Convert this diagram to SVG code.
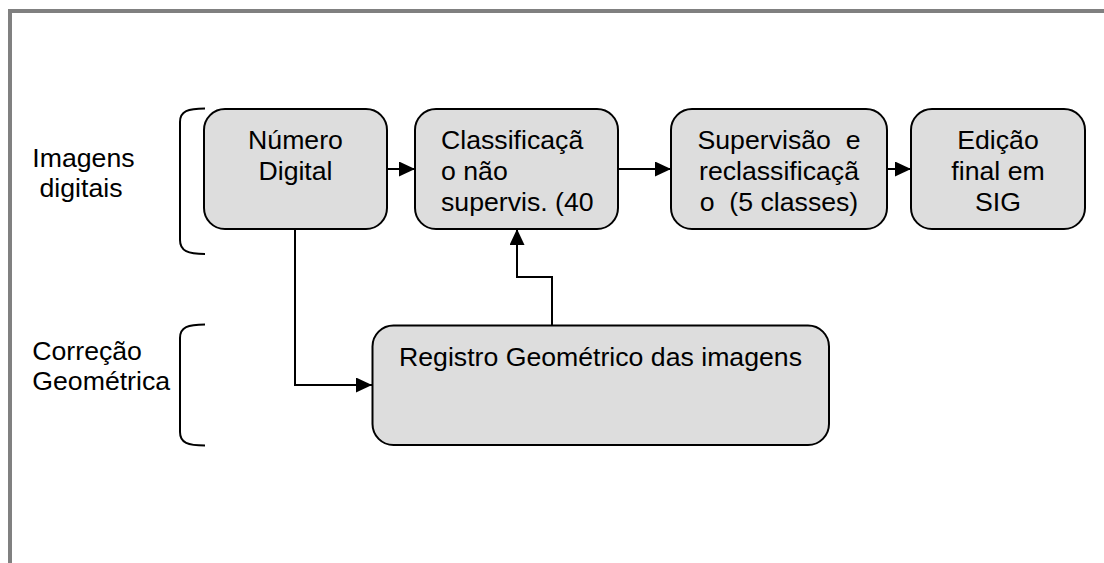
<svg xmlns="http://www.w3.org/2000/svg" width="1104" height="563" viewBox="0 0 1104 563">
<defs>
<style>
.box{fill:#dddddd;stroke:#000;stroke-width:2}
.t{font-family:"Liberation Sans",Arial,sans-serif;font-size:26.67px;fill:#000;white-space:pre}
.m{text-anchor:middle}
.c{fill:none;stroke:#000;stroke-width:2}
.br{fill:none;stroke:#000;stroke-width:2}
</style>
<marker id="ah" viewBox="0 0 16 15" refX="16" refY="7.5" markerWidth="16" markerHeight="15" markerUnits="userSpaceOnUse" orient="auto">
<path d="M0,0 L16,7.5 L0,15 z" fill="#000"/>
</marker>
</defs>
<rect x="0" y="0" width="1104" height="563" fill="#fff"/>
<rect x="10" y="11" width="1200" height="600" fill="none" stroke="#808080" stroke-width="4"/>

<g id="label-imagens">
<text class="t" x="32.3" y="167">Imagens</text>
<text class="t" x="39.5" y="197">digitais</text>
<path class="br" d="M205,108.5 C188,108.5 180,111 180,122 L180,240 C180,251 188,254 205,254"/>
</g>
<g id="label-correcao">
<text class="t" x="32.3" y="360">Correção</text>
<text class="t" x="32.3" y="390">Geométrica</text>
<path class="br" d="M205,324.5 C188,324.5 180,327 180,338 L180,432 C180,443 188,445.5 205,445.5"/>
</g>

<g id="node-numero">
<rect class="box" x="204" y="109" width="183" height="120" rx="21"/>
<text class="t m" x="295.5" y="149">Número</text>
<text class="t m" x="295.5" y="180">Digital</text>
</g>
<g id="node-classificacao">
<rect class="box" x="415" y="109" width="203" height="120" rx="21"/>
<text class="t" x="441" y="149">Classificaçã</text>
<text class="t" x="441" y="180">o não</text>
<text class="t" x="441" y="211">supervis. (40</text>
</g>
<g id="node-supervisao">
<rect class="box" x="671" y="109" width="216" height="120" rx="21"/>
<text class="t m" x="779" y="149" xml:space="preserve">Supervisão  e</text>
<text class="t m" x="779" y="180">reclassificaçã</text>
<text class="t m" x="779" y="211" xml:space="preserve">o  (5 classes)</text>
</g>
<g id="node-edicao">
<rect class="box" x="911" y="109" width="174" height="120" rx="21"/>
<text class="t m" x="998" y="149">Edição</text>
<text class="t m" x="998" y="180">final em</text>
<text class="t m" x="998" y="211">SIG</text>
</g>
<g id="node-registro">
<rect class="box" x="372.5" y="325.5" width="456.5" height="119.5" rx="21"/>
<text class="t m" x="600.5" y="366">Registro Geométrico das imagens</text>
</g>

<g id="connectors">
<path class="c" d="M387,169 L415,169" marker-end="url(#ah)"/>
<path class="c" d="M618,169 L671,169" marker-end="url(#ah)"/>
<path class="c" d="M887,169 L911,169" marker-end="url(#ah)"/>
<path class="c" d="M295,229 L295,385 L372,385" marker-end="url(#ah)"/>
<path class="c" d="M552,325.5 L552,277 L517,277 L517,229" marker-end="url(#ah)"/>
</g>
</svg>
